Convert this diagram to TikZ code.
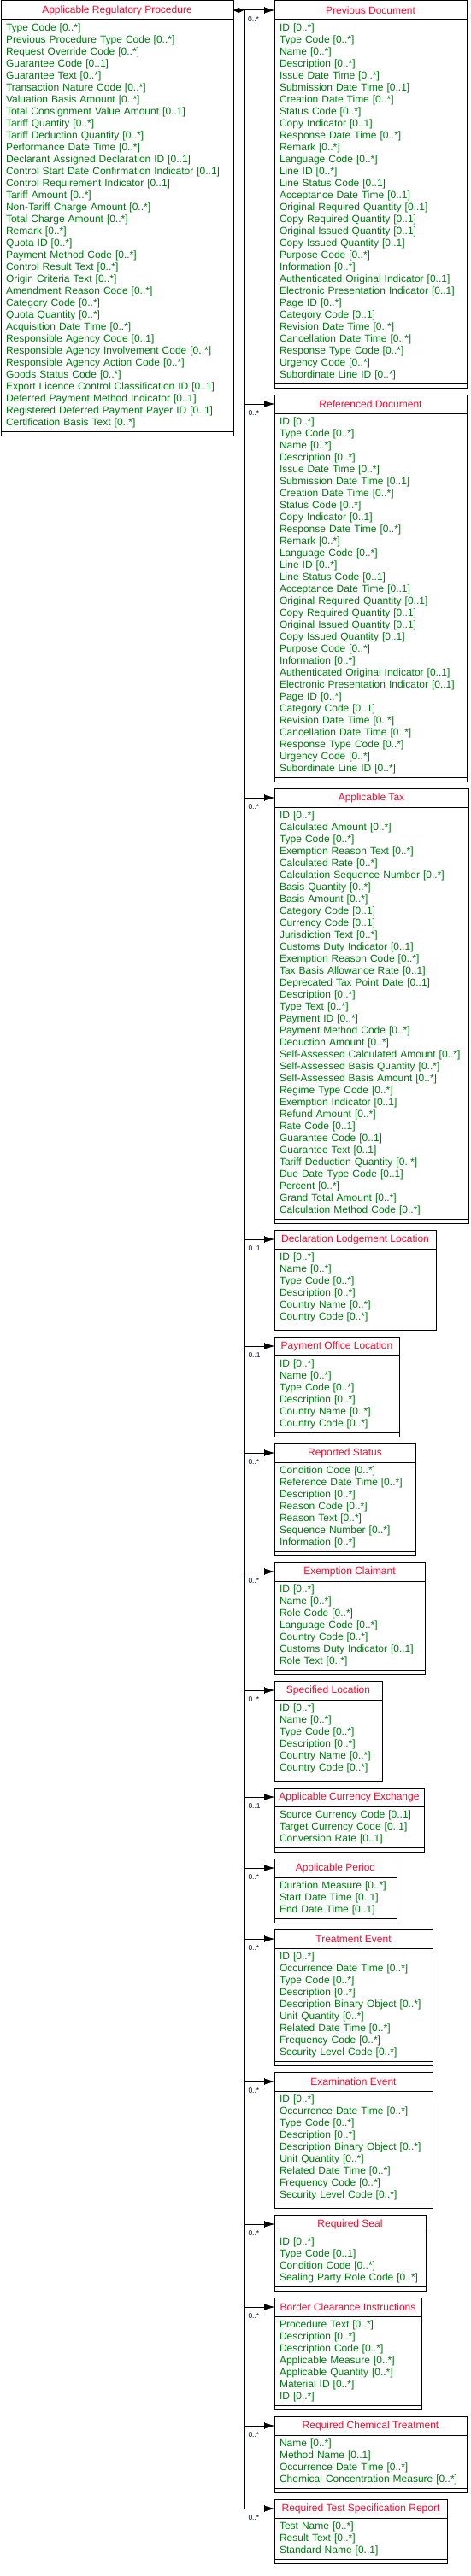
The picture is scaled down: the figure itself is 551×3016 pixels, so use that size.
\documentclass[tikz,border=0pt]{standalone}
\usepackage{fontspec}
\setmainfont{Liberation Sans}
\usepackage{tikz}
\usetikzlibrary{arrows.meta,positioning}
\definecolor{headred}{RGB}{238,12,48}
\definecolor{attrgreen}{RGB}{0,118,16}
\definecolor{multnavy}{RGB}{10,10,60}

\begin{document}
\begin{tikzpicture}[
  cls head/.style={draw,line width=1pt,outer sep=0pt,minimum height=22pt,inner sep=3pt,text=headred,font=\fontsize{12}{14}\selectfont},
  cls body/.style={draw,line width=1pt,outer sep=0pt,align=left,inner xsep=6pt,inner ysep=3pt,text=attrgreen,font=\fontsize{12}{14}\selectfont},
  cls foot/.style={draw,line width=1pt,outer sep=0pt,minimum height=5pt,inner sep=0pt},
  assoc/.style={line width=1pt,-{Bar[width=8pt,line width=1pt,sep=0pt]Triangle[length=11pt,width=6pt]}},
  comp/.style={line width=1pt,{Diamond[length=12pt,width=6pt]}-{Bar[width=8pt,line width=1pt,sep=0pt]Triangle[length=11pt,width=6pt]}},
  mult label/.style={anchor=north west,inner sep=0pt,xshift=3.5pt,yshift=-7.5pt,text=multnavy,font=\fontsize{8.5}{9}\selectfont}
]
\useasboundingbox (0,0) rectangle (551pt,-3016pt);

% root class
\node[cls head,minimum width=272pt,anchor=north west] (arp) at (1pt,-1pt) {Applicable Regulatory Procedure};
\node[cls body,text width=260pt,minimum height=482pt,below=0pt of arp.south west,anchor=north west] (arp-b) {Type Code [0..*]\\Previous Procedure Type Code [0..*]\\Request Override Code [0..*]\\Guarantee Code [0..1]\\Guarantee Text [0..*]\\Transaction Nature Code [0..*]\\Valuation Basis Amount [0..*]\\Total Consignment Value Amount [0..1]\\Tariff Quantity [0..*]\\Tariff Deduction Quantity [0..*]\\Performance Date Time [0..*]\\Declarant Assigned Declaration ID [0..1]\\Control Start Date Confirmation Indicator [0..1]\\Control Requirement Indicator [0..1]\\Tariff Amount [0..*]\\Non-Tariff Charge Amount [0..*]\\Total Charge Amount [0..*]\\Remark [0..*]\\Quota ID [0..*]\\Payment Method Code [0..*]\\Control Result Text [0..*]\\Origin Criteria Text [0..*]\\Amendment Reason Code [0..*]\\Category Code [0..*]\\Quota Quantity [0..*]\\Acquisition Date Time [0..*]\\Responsible Agency Code [0..1]\\Responsible Agency Involvement Code [0..*]\\Responsible Agency Action Code [0..*]\\Goods Status Code [0..*]\\Export Licence Control Classification ID [0..1]\\Deferred Payment Method Indicator [0..1]\\Registered Deferred Payment Payer ID [0..1]\\Certification Basis Text [0..*]};
\node[cls foot,minimum width=272pt,below=0pt of arp-b.south west,anchor=north west] (arp-f) {};

% associated classes
\node[cls head,minimum width=225pt,anchor=north west] (prevdoc) at (321pt,-1pt) {Previous Document};
\node[cls body,text width=213pt,minimum height=426pt,below=0pt of prevdoc.south west,anchor=north west] (prevdoc-b) {ID [0..*]\\Type Code [0..*]\\Name [0..*]\\Description [0..*]\\Issue Date Time [0..*]\\Submission Date Time [0..1]\\Creation Date Time [0..*]\\Status Code [0..*]\\Copy Indicator [0..1]\\Response Date Time [0..*]\\Remark [0..*]\\Language Code [0..*]\\Line ID [0..*]\\Line Status Code [0..1]\\Acceptance Date Time [0..1]\\Original Required Quantity [0..1]\\Copy Required Quantity [0..1]\\Original Issued Quantity [0..1]\\Copy Issued Quantity [0..1]\\Purpose Code [0..*]\\Information [0..*]\\Authenticated Original Indicator [0..1]\\Electronic Presentation Indicator [0..1]\\Page ID [0..*]\\Category Code [0..1]\\Revision Date Time [0..*]\\Cancellation Date Time [0..*]\\Response Type Code [0..*]\\Urgency Code [0..*]\\Subordinate Line ID [0..*]};
\node[cls foot,minimum width=225pt,below=0pt of prevdoc-b.south west,anchor=north west] (prevdoc-f) {};

\node[cls head,minimum width=225pt,below=8pt of prevdoc-f.south west,anchor=north west] (refdoc) {Referenced Document};
\node[cls body,text width=213pt,minimum height=426pt,below=0pt of refdoc.south west,anchor=north west] (refdoc-b) {ID [0..*]\\Type Code [0..*]\\Name [0..*]\\Description [0..*]\\Issue Date Time [0..*]\\Submission Date Time [0..1]\\Creation Date Time [0..*]\\Status Code [0..*]\\Copy Indicator [0..1]\\Response Date Time [0..*]\\Remark [0..*]\\Language Code [0..*]\\Line ID [0..*]\\Line Status Code [0..1]\\Acceptance Date Time [0..1]\\Original Required Quantity [0..1]\\Copy Required Quantity [0..1]\\Original Issued Quantity [0..1]\\Copy Issued Quantity [0..1]\\Purpose Code [0..*]\\Information [0..*]\\Authenticated Original Indicator [0..1]\\Electronic Presentation Indicator [0..1]\\Page ID [0..*]\\Category Code [0..1]\\Revision Date Time [0..*]\\Cancellation Date Time [0..*]\\Response Type Code [0..*]\\Urgency Code [0..*]\\Subordinate Line ID [0..*]};
\node[cls foot,minimum width=225pt,below=0pt of refdoc-b.south west,anchor=north west] (refdoc-f) {};

\node[cls head,minimum width=227pt,below=8pt of refdoc-f.south west,anchor=north west] (tax) {Applicable Tax};
\node[cls body,text width=215pt,minimum height=482pt,below=0pt of tax.south west,anchor=north west] (tax-b) {ID [0..*]\\Calculated Amount [0..*]\\Type Code [0..*]\\Exemption Reason Text [0..*]\\Calculated Rate [0..*]\\Calculation Sequence Number [0..*]\\Basis Quantity [0..*]\\Basis Amount [0..*]\\Category Code [0..1]\\Currency Code [0..1]\\Jurisdiction Text [0..*]\\Customs Duty Indicator [0..1]\\Exemption Reason Code [0..*]\\Tax Basis Allowance Rate [0..1]\\Deprecated Tax Point Date [0..1]\\Description [0..*]\\Type Text [0..*]\\Payment ID [0..*]\\Payment Method Code [0..*]\\Deduction Amount [0..*]\\Self-Assessed Calculated Amount [0..*]\\Self-Assessed Basis Quantity [0..*]\\Self-Assessed Basis Amount [0..*]\\Regime Type Code [0..*]\\Exemption Indicator [0..1]\\Refund Amount [0..*]\\Rate Code [0..1]\\Guarantee Code [0..1]\\Guarantee Text [0..1]\\Tariff Deduction Quantity [0..*]\\Due Date Type Code [0..1]\\Percent [0..*]\\Grand Total Amount [0..*]\\Calculation Method Code [0..*]};
\node[cls foot,minimum width=227pt,below=0pt of tax-b.south west,anchor=north west] (tax-f) {};

\node[cls head,minimum width=189pt,below=8pt of tax-f.south west,anchor=north west] (lodgeloc) {Declaration Lodgement Location};
\node[cls body,text width=177pt,minimum height=90pt,below=0pt of lodgeloc.south west,anchor=north west] (lodgeloc-b) {ID [0..*]\\Name [0..*]\\Type Code [0..*]\\Description [0..*]\\Country Name [0..*]\\Country Code [0..*]};
\node[cls foot,minimum width=189pt,below=0pt of lodgeloc-b.south west,anchor=north west] (lodgeloc-f) {};

\node[cls head,minimum width=146pt,below=8pt of lodgeloc-f.south west,anchor=north west] (payloc) {Payment Office Location};
\node[cls body,text width=134pt,minimum height=90pt,below=0pt of payloc.south west,anchor=north west] (payloc-b) {ID [0..*]\\Name [0..*]\\Type Code [0..*]\\Description [0..*]\\Country Name [0..*]\\Country Code [0..*]};
\node[cls foot,minimum width=146pt,below=0pt of payloc-b.south west,anchor=north west] (payloc-f) {};

\node[cls head,minimum width=165pt,below=8pt of payloc-f.south west,anchor=north west] (repstatus) {Reported Status};
\node[cls body,text width=153pt,minimum height=104pt,below=0pt of repstatus.south west,anchor=north west] (repstatus-b) {Condition Code [0..*]\\Reference Date Time [0..*]\\Description [0..*]\\Reason Code [0..*]\\Reason Text [0..*]\\Sequence Number [0..*]\\Information [0..*]};
\node[cls foot,minimum width=165pt,below=0pt of repstatus-b.south west,anchor=north west] (repstatus-f) {};

\node[cls head,minimum width=176pt,below=8pt of repstatus-f.south west,anchor=north west] (claimant) {Exemption Claimant};
\node[cls body,text width=164pt,minimum height=104pt,below=0pt of claimant.south west,anchor=north west] (claimant-b) {ID [0..*]\\Name [0..*]\\Role Code [0..*]\\Language Code [0..*]\\Country Code [0..*]\\Customs Duty Indicator [0..1]\\Role Text [0..*]};
\node[cls foot,minimum width=176pt,below=0pt of claimant-b.south west,anchor=north west] (claimant-f) {};

\node[cls head,minimum width=126pt,below=8pt of claimant-f.south west,anchor=north west] (specloc) {Specified Location};
\node[cls body,text width=114pt,minimum height=90pt,below=0pt of specloc.south west,anchor=north west] (specloc-b) {ID [0..*]\\Name [0..*]\\Type Code [0..*]\\Description [0..*]\\Country Name [0..*]\\Country Code [0..*]};
\node[cls foot,minimum width=126pt,below=0pt of specloc-b.south west,anchor=north west] (specloc-f) {};

\node[cls head,minimum width=175pt,below=8pt of specloc-f.south west,anchor=north west] (currex) {Applicable Currency Exchange};
\node[cls body,text width=163pt,minimum height=48pt,below=0pt of currex.south west,anchor=north west] (currex-b) {Source Currency Code [0..1]\\Target Currency Code [0..1]\\Conversion Rate [0..1]};
\node[cls foot,minimum width=175pt,below=0pt of currex-b.south west,anchor=north west] (currex-f) {};

\node[cls head,minimum width=143pt,below=8pt of currex-f.south west,anchor=north west] (period) {Applicable Period};
\node[cls body,text width=131pt,minimum height=48pt,below=0pt of period.south west,anchor=north west] (period-b) {Duration Measure [0..*]\\Start Date Time [0..1]\\End Date Time [0..1]};
\node[cls foot,minimum width=143pt,below=0pt of period-b.south west,anchor=north west] (period-f) {};

\node[cls head,minimum width=185pt,below=8pt of period-f.south west,anchor=north west] (treat) {Treatment Event};
\node[cls body,text width=173pt,minimum height=132pt,below=0pt of treat.south west,anchor=north west] (treat-b) {ID [0..*]\\Occurrence Date Time [0..*]\\Type Code [0..*]\\Description [0..*]\\Description Binary Object [0..*]\\Unit Quantity [0..*]\\Related Date Time [0..*]\\Frequency Code [0..*]\\Security Level Code [0..*]};
\node[cls foot,minimum width=185pt,below=0pt of treat-b.south west,anchor=north west] (treat-f) {};

\node[cls head,minimum width=185pt,below=8pt of treat-f.south west,anchor=north west] (exam) {Examination Event};
\node[cls body,text width=173pt,minimum height=132pt,below=0pt of exam.south west,anchor=north west] (exam-b) {ID [0..*]\\Occurrence Date Time [0..*]\\Type Code [0..*]\\Description [0..*]\\Description Binary Object [0..*]\\Unit Quantity [0..*]\\Related Date Time [0..*]\\Frequency Code [0..*]\\Security Level Code [0..*]};
\node[cls foot,minimum width=185pt,below=0pt of exam-b.south west,anchor=north west] (exam-f) {};

\node[cls head,minimum width=177pt,below=8pt of exam-f.south west,anchor=north west] (seal) {Required Seal};
\node[cls body,text width=165pt,minimum height=62pt,below=0pt of seal.south west,anchor=north west] (seal-b) {ID [0..*]\\Type Code [0..1]\\Condition Code [0..*]\\Sealing Party Role Code [0..*]};
\node[cls foot,minimum width=177pt,below=0pt of seal-b.south west,anchor=north west] (seal-f) {};

\node[cls head,minimum width=172pt,below=8pt of seal-f.south west,anchor=north west] (border) {Border Clearance Instructions};
\node[cls body,text width=160pt,minimum height=104pt,below=0pt of border.south west,anchor=north west] (border-b) {Procedure Text [0..*]\\Description [0..*]\\Description Code [0..*]\\Applicable Measure [0..*]\\Applicable Quantity [0..*]\\Material ID [0..*]\\ID [0..*]};
\node[cls foot,minimum width=172pt,below=0pt of border-b.south west,anchor=north west] (border-f) {};

\node[cls head,minimum width=225pt,below=8pt of border-f.south west,anchor=north west] (chem) {Required Chemical Treatment};
\node[cls body,text width=213pt,minimum height=62pt,below=0pt of chem.south west,anchor=north west] (chem-b) {Name [0..*]\\Method Name [0..1]\\Occurrence Date Time [0..*]\\Chemical Concentration Measure [0..*]};
\node[cls foot,minimum width=225pt,below=0pt of chem-b.south west,anchor=north west] (chem-f) {};

\node[cls head,minimum width=202pt,below=8pt of chem-f.south west,anchor=north west] (testrep) {Required Test Specification Report};
\node[cls body,text width=190pt,minimum height=48pt,below=0pt of testrep.south west,anchor=north west] (testrep-b) {Test Name [0..*]\\Result Text [0..*]\\Standard Name [0..1]};
\node[cls foot,minimum width=202pt,below=0pt of testrep-b.south west,anchor=north west] (testrep-f) {};

% connectors
\coordinate (fork) at (286.5pt,0pt |- arp.east);
\draw[comp] (arp.east) -- (prevdoc.west);
\node[mult label] at (fork) {0..*};
\draw[assoc] (fork) |- node[mult label] {0..*} (refdoc.west);
\draw[assoc] (fork) |- node[mult label] {0..*} (tax.west);
\draw[assoc] (fork) |- node[mult label] {0..1} (lodgeloc.west);
\draw[assoc] (fork) |- node[mult label] {0..1} (payloc.west);
\draw[assoc] (fork) |- node[mult label] {0..*} (repstatus.west);
\draw[assoc] (fork) |- node[mult label] {0..*} (claimant.west);
\draw[assoc] (fork) |- node[mult label] {0..*} (specloc.west);
\draw[assoc] (fork) |- node[mult label] {0..1} (currex.west);
\draw[assoc] (fork) |- node[mult label] {0..*} (period.west);
\draw[assoc] (fork) |- node[mult label] {0..*} (treat.west);
\draw[assoc] (fork) |- node[mult label] {0..*} (exam.west);
\draw[assoc] (fork) |- node[mult label] {0..*} (seal.west);
\draw[assoc] (fork) |- node[mult label] {0..*} (border.west);
\draw[assoc] (fork) |- node[mult label] {0..*} (chem.west);
\draw[assoc] (fork) |- node[mult label] {0..*} (testrep.west);
\end{tikzpicture}
\end{document}
